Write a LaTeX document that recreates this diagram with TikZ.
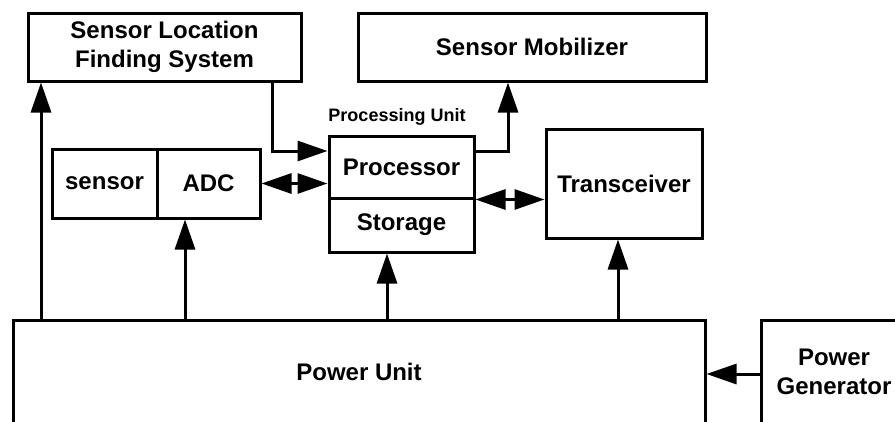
\documentclass[tikz,border=0pt]{standalone}
\usepackage{fontspec}
\setmainfont{Liberation Sans}
\usetikzlibrary{arrows.meta}

\begin{document}
\begin{tikzpicture}[x=0.75pt, y=-0.75pt, line width=2.25pt,
    >={Triangle[length=22.5pt,width=15pt]},
    blk/.style={draw, inner sep=0pt, align=center,
      font=\bfseries\fontsize{18}{22}\selectfont}]
    \useasboundingbox (0,0) rectangle (895,421);
    \clip (0,0) rectangle (895,421);
    \node[blk, minimum width=204.75pt, minimum height=51pt] (slfs) at (164.5,47) {Sensor Location\\Finding System};
    \node[blk, minimum width=261pt, minimum height=51pt] (mob) at (532,47) {Sensor Mobilizer};
    \node[blk, minimum width=108.75pt, minimum height=46.5pt] (proc) at (401.5,167) {Processor};
    \node[blk, minimum width=108.75pt, minimum height=40.5pt] (stor) at (401.5,225) {Storage};
    \node[font=\bfseries\fontsize{13.5}{16}\selectfont] (pulabel) at (397,117) {Processing Unit};
    \node[blk, minimum width=78.75pt, minimum height=51.75pt] (sens) at (104.5,183.5) {sensor};
    \node[blk, minimum width=77.25pt, minimum height=51.75pt] (adc) at (208.5,183.5) {ADC};
    \node[blk, minimum width=117pt, minimum height=81.75pt] (trx) at (624,183.5) {Transceiver};
    \node[blk, minimum width=519pt, minimum height=78pt] (pwr) at (359,372) {Power Unit};
    \node[blk, minimum width=109.5pt, minimum height=78pt] (gen) at (834,372) {Power\\Generator};
    \coordinate (lft) at (41,0);
    \coordinate (lochook) at (272,151);
    \coordinate (mobhook) at (508,151);
    \coordinate (xadc) at (185,0);
    \coordinate (xstor) at (387,0);
    \coordinate (xtrx) at (618,0);
    \coordinate (ygen) at (0,374);
    \draw[->] (pwr.north -| lft) -- (slfs.south -| lft);
    \draw[->] (slfs.south -| lochook) |- (proc.west |- lochook);
    \draw[<->] (adc.east) -- (proc.west |- adc.east);
    \draw[->] (proc.east |- mobhook) -| (mob.south -| mobhook);
    \draw[<->] (proc.south east) -- (trx.west |- proc.south);
    \draw[->] (pwr.north -| xadc) -- (adc.south -| xadc);
    \draw[->] (pwr.north -| xstor) -- (stor.south -| xstor);
    \draw[->] (pwr.north -| xtrx) -- (trx.south -| xtrx);
    \draw[->] (gen.west |- ygen) -- (pwr.east |- ygen);
\end{tikzpicture}
\end{document}
